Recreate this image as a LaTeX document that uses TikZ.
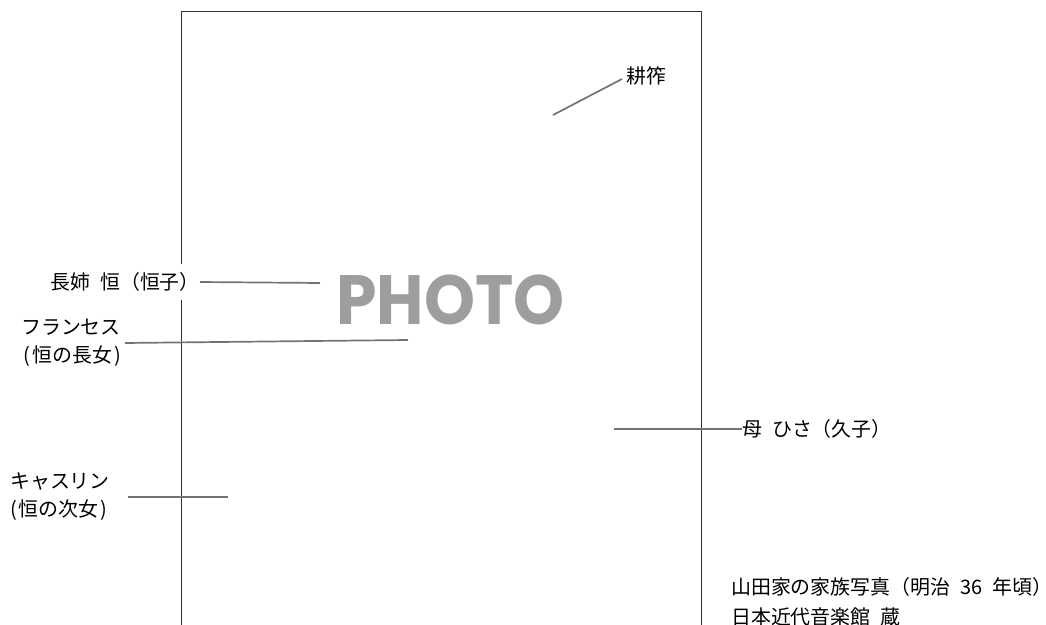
\documentclass[tikz,border=0pt]{standalone}
\usepackage{fontspec}
\setmainfont{Noto Sans CJK JP}
\newfontfamily\photofont{Poppins}
\newcommand\wsp{\hspace{0.5em}}
\tikzset{
  lbl/.style={inner sep=0, font=\fontsize{20}{28}\selectfont},
  lead/.style={draw=black!55, line width=1.7bp},
  frame/.style={draw=black!80, line width=1bp},
}
\begin{document}
\begin{tikzpicture}[x=1bp, y=-1bp]
\clip (0,0) rectangle (1046,625);
\draw[frame] (181.5,640) -- (181.5,11.5) -- (701,11.5) -- (701,640);
\node[anchor=base, inner sep=0, xscale=0.93, text=black!38, font=\photofont\bfseries\fontsize{70}{70}\selectfont] (photo) at (450.5,324.5) {PHOTO};
\node[lbl, anchor=west] (lab0) at (626,76) {耕筰};
\node[lbl, anchor=east, fill=white, inner ysep=9bp] (lab1) at (200,282) {長姉\wsp 恒（恒子）};
\node[lbl, anchor=east, align=right] (lab2) at (121,343) {フランセス\\(\kern2bp 恒の長女\kern2bp)};
\node[lbl, anchor=west, align=left] (lab3) at (10,497) {キャスリン\\(\kern2bp 恒の次女\kern2bp)};
\node[lbl, anchor=west] (lab4) at (742,429) {母\wsp ひさ（久子）};
\node[lbl, anchor=north west, align=left, font=\fontsize{20}{30}\selectfont] (cap) at (731,577.5) {山田家の家族写真（明治\wsp 36\wsp 年頃）\\日本近代音楽館\wsp 蔵};
\coordinate (pin0) at (553,115);
\coordinate (pin1) at (320,283);
\coordinate (pin2) at (408,340);
\coordinate (pin3) at (228,497);
\coordinate (pin4) at (614,429);
\draw[lead] (pin0) -- ([xshift=-4bp, yshift=-3bp]lab0.west);
\draw[lead] (lab1.east) -- (pin1);
\draw[lead] ([xshift=4bp]lab2.east) -- (pin2);
\draw[lead] ([xshift=18bp]lab3.east) -- (pin3);
\draw[lead] (pin4) -- (lab4.west);
\end{tikzpicture}
\end{document}
